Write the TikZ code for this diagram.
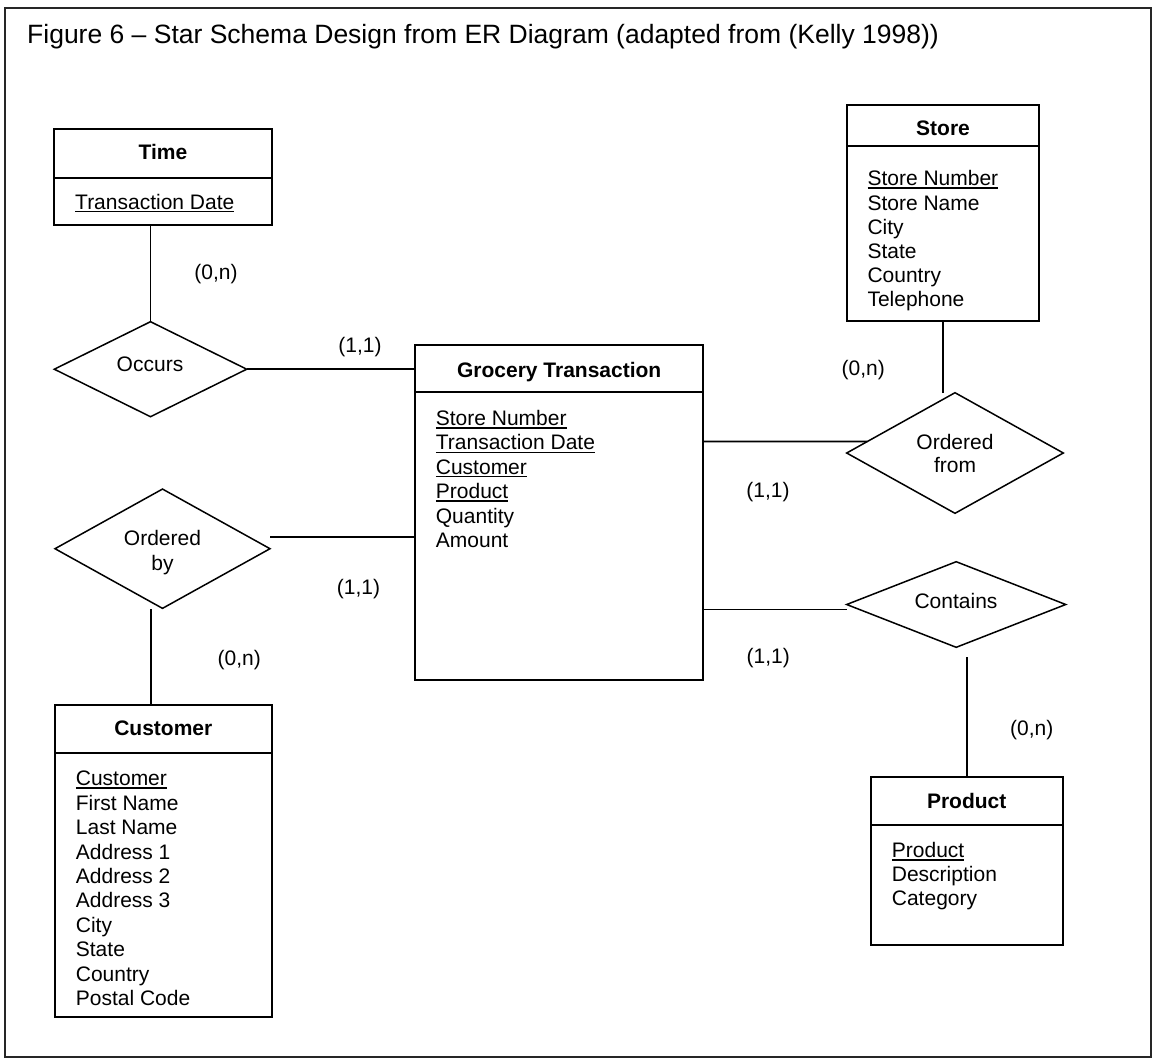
\documentclass[tikz,border=0pt]{standalone}
\usepackage{fontspec}
\setmainfont{Liberation Sans}
\usetikzlibrary{shapes.geometric,calc}
\newcommand\myul[1]{\setbox0\hbox{#1}\rlap{\rule[-3pt]{\wd0}{1.4pt}}\box0}
\begin{document}
\begin{tikzpicture}[x=1pt,y=-1pt,
  ent/.style={draw, line width=2pt, rectangle, anchor=north west, inner sep=0pt, outer sep=0pt},
  rel/.style={draw, line width=1.5pt, diamond, inner sep=0pt, outer sep=0pt},
  hdr/.style={font=\fontsize{21}{24}\selectfont\bfseries, anchor=base, inner sep=0pt},
  txt/.style={font=\fontsize{21}{24}\selectfont, anchor=base west, inner sep=0pt},
  lbl/.style={font=\fontsize{21}{24}\selectfont, anchor=base, inner sep=0pt},
  conn/.style={line width=1.8pt},
  divl/.style={line width=2pt}]
\useasboundingbox (0,0) rectangle (1154,1061);
\draw[line width=1.5pt, black!85] (5,8) rectangle (1151,1057);
\node[anchor=base west, inner sep=0pt, font=\fontsize{26.5}{30}\selectfont] (title) at (27,43)
  {Figure 6 – Star Schema Design from ER Diagram (adapted from (Kelly 1998))};

% Time
\node[ent, minimum width=217.4pt, minimum height=96pt] (tm) at (54.3,129.3) {};
\draw[divl] (tm.west |- 0,177.7) -- (tm.east |- 0,177.7);
\node[hdr] (tmh) at (163,159.2) {Time};
\node[txt] (tma) at (75,209.2) {\myul{Transaction Date}};

% Store
\node[ent, minimum width=192.6pt, minimum height=215.7pt] (st) at (846.7,105) {};
\draw[divl] (st.west |- 0,146) -- (st.east |- 0,146);
\node[hdr] (sth) at (943,135.8) {Store};
\foreach \t [count=\i from 0] in {\myul{Store Number},Store Name,City,State,Country,Telephone}
  \node[txt] (st-a\i) at (867.3,185.8+24.2*\i) {\t};

% Grocery Transaction
\node[ent, minimum width=288.3pt, minimum height=335pt] (gt) at (415,345) {};
\draw[divl] (gt.west |- 0,392.3) -- (gt.east |- 0,392.3);
\node[hdr] (gth) at (559.2,377) {Grocery Transaction};
\foreach \t [count=\i from 0] in {\myul{Store Number},\myul{Transaction Date},\myul{Customer},\myul{Product},Quantity,Amount}
  \node[txt] (gt-a\i) at (435.7,425.5+24.4*\i) {\t};

% Customer
\node[ent, minimum width=216.7pt, minimum height=311.7pt] (cu) at (55,705) {};
\draw[divl] (cu.west |- 0,752.7) -- (cu.east |- 0,752.7);
\node[hdr] (cuh) at (163.3,735) {Customer};
\foreach \t [count=\i from 0] in {\myul{Customer},First Name,Last Name,Address 1,Address 2,Address 3,City,State,Country,Postal Code}
  \node[txt] (cu-a\i) at (75.7,785.8+24.4*\i) {\t};

% Product
\node[ent, minimum width=192pt, minimum height=168.3pt] (pr) at (870.7,776.7) {};
\draw[divl] (pr.west |- 0,825) -- (pr.east |- 0,825);
\node[hdr] (prh) at (966.7,808.5) {Product};
\foreach \t [count=\i from 0] in {\myul{Product},Description,Category}
  \node[txt] (pr-a\i) at (891.7,857.5+24.2*\i) {\t};

% Relationships
\node[rel, minimum width=192.4pt, minimum height=95pt] (oc) at (150.5,369.2) {};
\node[lbl] (oct) at (150,371.8) {Occurs};
\node[rel, minimum width=216.6pt, minimum height=120.6pt] (of) at (955,453) {};
\node[lbl] (oft1) at (955,449.2) {Ordered};
\node[lbl] (oft2) at (955,472.5) {from};
\node[rel, minimum width=215pt, minimum height=119.3pt] (ob) at (162.5,548.7) {};
\node[lbl] (obt1) at (162.5,545.8) {Ordered};
\node[lbl] (obt2) at (162.5,570.8) {by};
\node[rel, minimum width=219pt, minimum height=85.6pt] (ct) at (956.2,604.5) {};
\node[lbl] (ctt) at (956,608.5) {Contains};

% Connector end points
\coordinate (ofc) at (942.7,393);
\coordinate (obr) at (270,536.7);
\coordinate (obb) at (151,609.3);
\coordinate (ctb) at (966.7,657);

% Connectors
\draw[conn] (oc.north) -- (oc.north |- tm.south);
\draw[conn] (oc.east) -- (oc.east -| gt.west);
\draw[conn] (gt.east |- 0,441.5) -- ($(of.west)!0.19!(of.north)$);
\draw[conn] (ofc) -- (ofc |- st.south);
\draw[conn] (obr) -- (obr -| gt.west);
\draw[conn] (obb) -- (obb |- cu.north);
\draw[conn] (gt.east |- 0,609.5) -- (ct.west |- 0,609.5);
\draw[conn] (ctb) -- (ctb |- pr.north);

% Cardinalities
\node[lbl] (c1) at (216,279.2) {(0,n)};
\node[lbl] (c2) at (360,352.5) {(1,1)};
\node[lbl] (c3) at (863.3,375.8) {(0,n)};
\node[lbl] (c4) at (768,497.5) {(1,1)};
\node[lbl] (c5) at (358.5,594) {(1,1)};
\node[lbl] (c6) at (239.3,665.8) {(0,n)};
\node[lbl] (c7) at (768.3,663.5) {(1,1)};
\node[lbl] (c8) at (1031.7,735.8) {(0,n)};
\end{tikzpicture}
\end{document}
